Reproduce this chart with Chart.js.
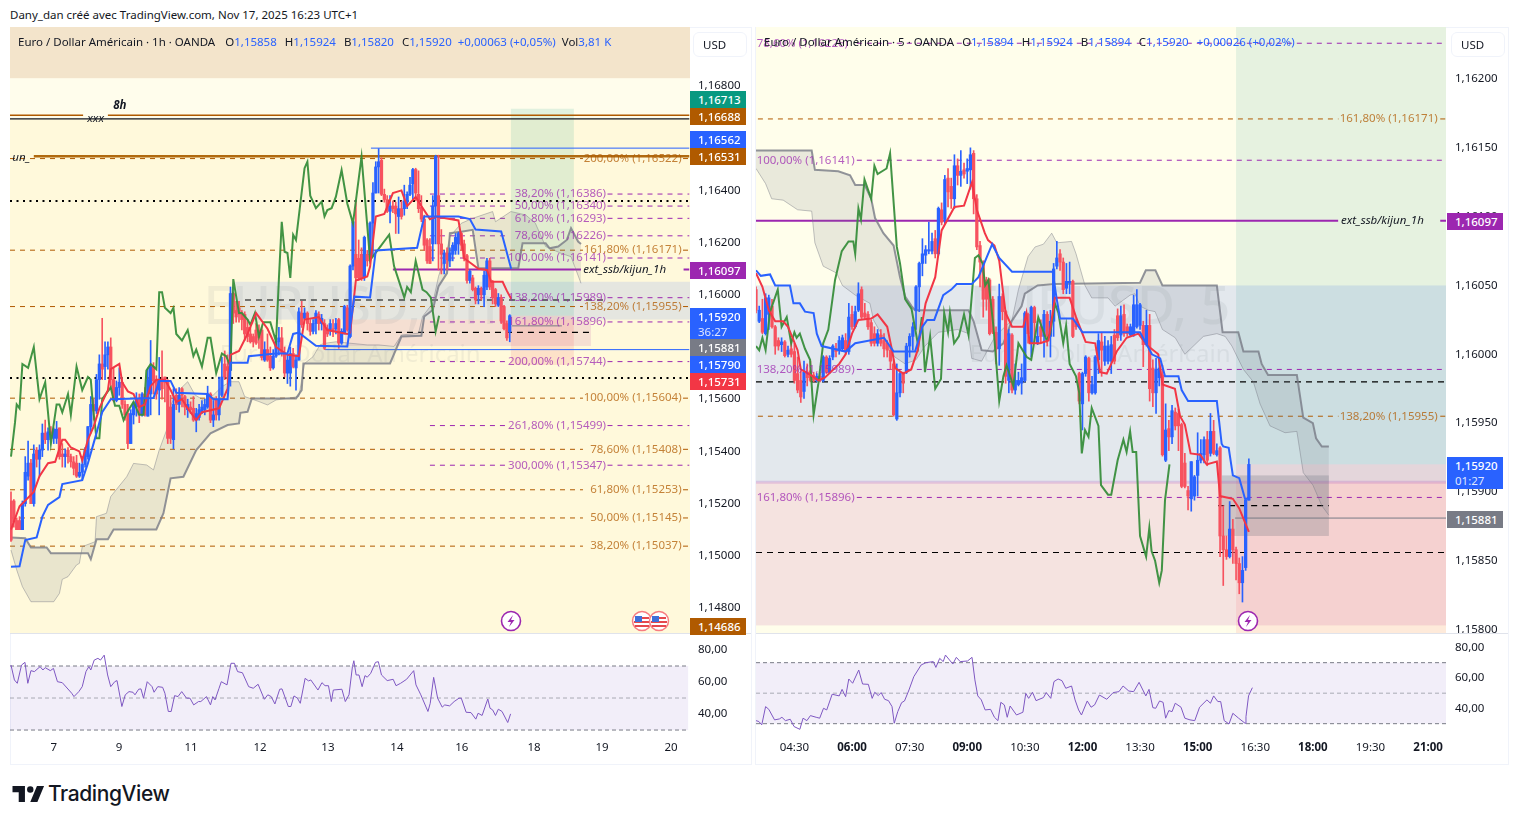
<!DOCTYPE html>
<html lang="fr">
<head>
<meta charset="utf-8">
<title>EURUSD</title>
<script src="https://cdn.jsdelivr.net/npm/chart.js@4/dist/chart.umd.min.js"></script>
<style>
  html, body { margin: 0; background: #fff; width: 1518px; height: 824px; overflow: hidden; font-family: "Noto Sans", sans-serif; color: #131722; }
  canvas { position: absolute; display: block; }
  .abs { position: absolute; white-space: nowrap; }
  .frame { position: absolute; border: 1px solid #f0f3fa; box-sizing: border-box; }
  .sep { position: absolute; height: 1px; background: #e0e3eb; }
  .legend { font-size: 11.5px; line-height: 16px; }
  .legend b { font-weight: 400; color: #2962ff; }
  .legend span { margin-left: 8px; }
  .usd { position: absolute; width: 54px; height: 25px; border: 1px solid #f0f3fa; border-radius: 6px; box-sizing: border-box; font-size: 11.5px; line-height: 24px; padding-left: 9px; background: #fff; }
  .badge { position: absolute; width: 56px; color: #fff; font-size: 11.5px; font-weight: 500; line-height: 17px; padding-left: 8px; box-sizing: border-box; }
  .badge i { display: block; font-style: normal; font-weight: 400; color: #dfe6ff; line-height: 13px; padding-bottom: 2px; }
</style>
</head>
<body>
<div class="abs" style="left:10px;top:7px;font-size:11.5px;line-height:16px">Dany_dan créé avec TradingView.com, Nov 17, 2025 16:23 UTC+1</div>
<div class="frame" style="left:10px;top:27px;width:742px;height:738px"></div>
<div class="frame" style="left:755px;top:27px;width:754px;height:738px"></div>

<canvas id="leftMain" width="741" height="606" style="left:10px;top:27px"></canvas>
<canvas id="leftRsi" width="741" height="130" style="left:10px;top:634px"></canvas>
<canvas id="rightMain" width="752" height="606" style="left:756px;top:27px"></canvas>
<canvas id="rightRsi" width="752" height="130" style="left:756px;top:634px"></canvas>
<div class="sep" style="left:10px;top:633px;width:741px"></div>
<div class="sep" style="left:756px;top:633px;width:752px"></div>

<div class="abs legend" style="left:18px;top:34px">Euro / Dollar Américain · 1h · OANDA<span style="margin-left:10px">O<b>1,15858</b></span><span>H<b>1,15924</b></span><span>B<b>1,15820</b></span><span>C<b>1,15920</b></span><span style="margin-left:6px"><b>+0,00063 (+0,05%)</b></span><span style="margin-left:6px">Vol<b>3,81 K</b></span></div>
<div class="abs legend" style="left:764px;top:34px">Euro / Dollar Américain · 5 · OANDA<span>O<b>1,15894</b></span><span>H<b>1,15924</b></span><span>B<b>1,15894</b></span><span>C<b>1,15920</b></span><span><b>+0,00026 (+0,02%)</b></span></div>
<div class="usd" style="left:693px;top:32px">USD</div>
<div class="usd" style="left:1451px;top:32px">USD</div>

<div class="badge" style="left:690px;top:91px;background:#089981">1,16713</div>
<div class="badge" style="left:690px;top:108px;background:#b05a00">1,16688</div>
<div class="badge" style="left:690px;top:131px;background:#2962ff">1,16562</div>
<div class="badge" style="left:690px;top:148px;background:#b05a00">1,16531</div>
<div class="badge" style="left:690px;top:262px;background:#9c27b0">1,16097</div>
<div class="badge" style="left:690px;top:308px;background:#2962ff">1,15920<i>36:27</i></div>
<div class="badge" style="left:690px;top:339px;background:#787b86">1,15881</div>
<div class="badge" style="left:690px;top:356px;background:#2962ff">1,15790</div>
<div class="badge" style="left:690px;top:373px;background:#f23645">1,15731</div>
<div class="badge" style="left:690px;top:618px;background:#b05a00">1,14686</div>
<div class="badge" style="left:1447px;top:213px;background:#9c27b0">1,16097</div>
<div class="badge" style="left:1447px;top:457px;background:#2962ff">1,15920<i>01:27</i></div>
<div class="badge" style="left:1447px;top:511px;background:#787b86">1,15881</div>

<svg class="abs" style="left:500px;top:610px" width="22" height="22" viewBox="0 0 22 22"><circle cx="11" cy="11" r="9.5" fill="#fff" stroke="#9c27b0" stroke-width="1.6"/><path d="M13 5 7.5 12H11l-2 5 5.5-7H11z" fill="#9c27b0"/></svg>
<svg class="abs" style="left:1237px;top:610px" width="22" height="22" viewBox="0 0 22 22"><circle cx="11" cy="11" r="9.5" fill="#fff" stroke="#9c27b0" stroke-width="1.6"/><path d="M13 5 7.5 12H11l-2 5 5.5-7H11z" fill="#9c27b0"/></svg>
<svg class="abs" style="left:631px;top:610px" width="40" height="22" viewBox="0 0 40 22">
  <g id="flag"><circle cx="11" cy="11" r="9.5" fill="#fff" stroke="#f77c80" stroke-width="1.5"/><path d="M4 7h14v2H4zM3 11h16v2H3zM4 15h14v2H4z" fill="#e5484d"/><path d="M4 6h7v6H4z" fill="#3f6fd8"/></g>
  <use href="#flag" x="17"/>
</svg>

<svg class="abs" style="left:12px;top:786px" width="33" height="16" viewBox="0 0 36 18"><path d="M14 0H0v7h7v11h7zM28 18h-8L27.5 0h8z" fill="#131722"/><circle cx="20" cy="4" r="3.6" fill="#131722"/></svg>
<div class="abs" style="left:48px;top:781px;font:500 21px/26px Inter, Roboto, sans-serif;letter-spacing:-0.4px;color:#131722">TradingView</div>

<script>
// 1h pane: candles, one value per bar
const leftOpen = [1.1521,1.1521,1.15135,1.15135,1.151,1.152,1.15305,1.15355,1.152,1.15405,
  1.1537,1.15405,1.1547,1.15445,1.15475,1.1545,1.1545,1.1549,1.1539,1.1538,
  1.15405,1.1538,1.1536,1.15355,1.15305,1.1532,1.1535,1.1538,1.15495,1.1558,
  1.15555,1.15675,1.15735,1.15725,1.1577,1.158,1.15675,1.15595,1.15645,1.15665,
  1.1558,1.15545,1.1543,1.1554,1.1557,1.156,1.1554,1.1562,1.15535,1.1562,
  1.15725,1.15675,1.15635,1.15675,1.15685,1.15665,1.1557,1.15445,1.15615,1.1558,
  1.1564,1.1561,1.1556,1.1557,1.15565,1.1552,1.1553,1.1555,1.1556,1.1557,
  1.1562,1.1552,1.156,1.1554,1.15615,1.15735,1.15725,1.1571,1.16005,1.1594,
  1.1595,1.1593,1.15925,1.15875,1.1585,1.1584,1.15865,1.15865,1.15865,1.1575,
  1.1579,1.15765,1.1572,1.15765,1.1582,1.15835,1.15775,1.157,1.157,1.15775,
  1.1572,1.1575,1.1593,1.1591,1.1593,1.1589,1.1586,1.1589,1.15925,1.1589,
  1.1589,1.1587,1.15865,1.1587,1.1587,1.15905,1.15815,1.1585,1.1595,
  1.1584,1.1611,1.16155,1.1614,1.16155,1.16065,1.16155,1.16155,1.16275,1.1639,
  1.1649,1.16515,1.16385,1.16365,1.1632,1.1634,1.1634,1.163,1.1633,1.1633,
  1.16355,1.16385,1.16425,1.1648,1.16385,1.16335,1.1629,1.1621,1.16185,1.16195,
  1.1634,1.1638,1.16195,1.1612,1.1616,1.1613,1.16155,1.1617,1.16195,1.16235,
  1.16195,1.1615,1.16055,1.16065,1.16025,1.16,1.16025,1.16,1.1603,1.1613,
  1.1605,1.1602,1.1596,1.1599,1.15955,1.1589,1.15858];
const leftHigh = [1.15245,1.15215,1.15145,1.1515,1.1521,1.1538,1.1544,1.1537,1.15425,1.15415,
  1.15425,1.15505,1.1552,1.1549,1.15495,1.1549,1.15515,1.1549,1.1543,1.1541,
  1.15415,1.1539,1.1538,1.15385,1.15355,1.1538,1.15415,1.15495,1.1561,1.156,
  1.15695,1.1577,1.1591,1.1582,1.1582,1.15835,1.1572,1.1567,1.1572,1.15675,
  1.15595,1.1558,1.1556,1.1559,1.15625,1.1562,1.15625,1.15645,1.1572,1.15825,
  1.1574,1.1569,1.1576,1.15785,1.15685,1.15675,1.15615,1.1564,1.1564,1.15645,
  1.15645,1.15615,1.156,1.1559,1.1561,1.15565,1.1558,1.15595,1.156,1.1565,
  1.15625,1.15595,1.1561,1.15685,1.1576,1.15785,1.1577,1.1603,1.1601,1.15975,
  1.15975,1.1594,1.15935,1.15905,1.15875,1.1585,1.1589,1.15885,1.15875,1.1582,
  1.1585,1.158,1.1579,1.15845,1.15875,1.15875,1.158,1.15775,1.158,1.15795,
  1.1577,1.1595,1.15975,1.1595,1.15935,1.15905,1.15905,1.1594,1.15935,1.15925,
  1.15905,1.15885,1.15905,1.15905,1.1591,1.1591,1.1587,1.1596,1.1596,
  1.16115,1.1628,1.16355,1.1621,1.1618,1.16225,1.1617,1.1628,1.1643,1.1651,
  1.1656,1.16525,1.16405,1.1638,1.1638,1.1636,1.16355,1.16375,1.1636,1.1642,
  1.16395,1.1645,1.16485,1.16485,1.16475,1.1638,1.16305,1.16215,1.16215,1.1638,
  1.16535,1.16535,1.1625,1.1617,1.1618,1.1618,1.162,1.16235,1.1624,1.1624,
  1.1621,1.16155,1.16095,1.16075,1.1603,1.16035,1.1603,1.1609,1.1614,1.1614,
  1.16055,1.16025,1.16005,1.16,1.1596,1.159,1.15924];
const leftLow = [1.15055,1.1511,1.151,1.151,1.151,1.1519,1.1529,1.152,1.1519,1.1534,
  1.15305,1.1538,1.1543,1.15405,1.1545,1.1543,1.1543,1.1537,1.1534,1.1534,
  1.15355,1.1534,1.1531,1.153,1.153,1.1529,1.1534,1.1537,1.1547,1.1552,
  1.15545,1.156,1.15675,1.15675,1.15715,1.1564,1.1559,1.1559,1.15615,1.15565,
  1.1552,1.1541,1.1543,1.15505,1.15535,1.1551,1.15535,1.15535,1.15535,1.1554,
  1.1562,1.156,1.1554,1.156,1.1559,1.1543,1.1543,1.1541,1.1556,1.1555,
  1.1557,1.1554,1.1553,1.15545,1.15515,1.15475,1.1552,1.15545,1.1554,1.15565,
  1.1551,1.15495,1.1552,1.1552,1.1561,1.15675,1.1566,1.1565,1.1589,1.15895,
  1.15895,1.15865,1.15825,1.1582,1.15815,1.158,1.1581,1.15795,1.1575,1.15745,
  1.15745,1.1571,1.15715,1.1576,1.1577,1.15765,1.15685,1.1566,1.1565,1.1572,
  1.15635,1.1575,1.15875,1.15905,1.15865,1.15845,1.1585,1.1585,1.15865,1.15865,
  1.1579,1.1584,1.15845,1.1584,1.1585,1.15795,1.1581,1.1585,1.1586,
  1.15835,1.16095,1.16055,1.16055,1.16055,1.16055,1.1611,1.1612,1.1615,1.1639,
  1.1639,1.1638,1.16355,1.16315,1.16275,1.16315,1.16235,1.16235,1.1629,1.16305,
  1.1633,1.1638,1.16365,1.1636,1.16315,1.1628,1.1617,1.1612,1.1612,1.1613,
  1.16195,1.16095,1.1608,1.1608,1.16095,1.16108,1.1613,1.16155,1.16155,1.1617,
  1.1613,1.16045,1.16045,1.16015,1.15965,1.15965,1.1598,1.15955,1.1602,1.1602,
  1.15965,1.15955,1.15955,1.1589,1.15865,1.15825,1.1582];
const leftClose = [1.1506,1.1513,1.151,1.151,1.152,1.1532,1.15355,1.152,1.1539,1.1537,
  1.15405,1.1547,1.15445,1.15475,1.15465,1.15485,1.15485,1.1538,1.1538,1.1539,
  1.1538,1.1536,1.15335,1.15305,1.1532,1.1535,1.15405,1.15495,1.1558,1.15555,
  1.15675,1.15735,1.15715,1.1577,1.158,1.15675,1.15595,1.15645,1.15665,1.1558,
  1.1554,1.1543,1.15545,1.1558,1.156,1.1554,1.1562,1.1554,1.15675,1.15725,
  1.1567,1.1562,1.1567,1.1564,1.15665,1.1545,1.1545,1.1558,1.1558,1.15615,
  1.15615,1.1557,1.1558,1.1556,1.1552,1.15545,1.1556,1.1557,1.1558,1.1562,
  1.1552,1.1554,1.1554,1.156,1.15685,1.15685,1.1571,1.16005,1.1593,1.15915,
  1.15925,1.15905,1.1585,1.1584,1.1582,1.1582,1.15815,1.15835,1.1576,1.1579,
  1.1575,1.1572,1.15765,1.1582,1.15835,1.15775,1.157,1.1575,1.15775,1.15725,
  1.1575,1.15935,1.15885,1.1593,1.1589,1.1586,1.1589,1.1593,1.1589,1.1591,
  1.15795,1.1585,1.1589,1.1586,1.1589,1.15815,1.1586,1.15955,1.15865,
  1.1611,1.1628,1.16065,1.16065,1.16065,1.1622,1.1613,1.16275,1.1639,1.1649,
  1.1651,1.16385,1.16365,1.1632,1.1634,1.1633,1.1631,1.1633,1.163,1.1636,
  1.16385,1.1642,1.1648,1.1639,1.1633,1.1629,1.1619,1.1613,1.1612,1.1634,
  1.1653,1.16195,1.16155,1.1616,1.16135,1.1616,1.1619,1.1622,1.16235,1.1619,
  1.1614,1.16055,1.1609,1.1602,1.1598,1.16025,1.16,1.16075,1.1613,1.1603,
  1.1599,1.15965,1.1599,1.159,1.1587,1.15835,1.1592];

const leftTenkanBars = [0,3,8,10,13,15.5,18,19,21,24,25,27,29,31,34,35,38,39,41,43,45,47,49,51,54,56,58,60,62,65,67,73,76,77,80,83,86,90,93,97,101,103,108,111,118,119,121,125,126,128,131,134,137,139,142,144,147,149,157,158,159,161.5,164,167,168.5,172.5,174,175.5];
const leftTenkan = [1.151,1.1519,1.15245,1.15305,1.15355,1.1536,1.15445,1.15445,1.15415,1.154,1.15365,1.15445,1.15495,1.15565,1.15635,1.15715,1.15735,1.15665,1.1563,1.1562,1.1557,1.1558,1.1565,1.15675,1.15675,1.15635,1.1559,1.156,1.15565,1.1552,1.1555,1.15565,1.1564,1.1577,1.15785,1.1585,1.1593,1.1587,1.158,1.1577,1.15765,1.15905,1.15915,1.15865,1.1585,1.15855,1.16055,1.1607,1.16108,1.163,1.1631,1.1639,1.164,1.1634,1.16375,1.1634,1.1629,1.163,1.16285,1.1622,1.1614,1.1612,1.161,1.16095,1.1605,1.1605,1.16015,1.15985];
const leftKijunBars = [0,3,5,9,11,13,17,18,25,27,30,32,35,50,52,56,58,69,71,76,77,83,83.5,93,97,99,101,104,107,118,120.5,126,128,142.5,145,157,161,163,172,175.5];
const leftKijun = [1.14958,1.1496,1.1506,1.1507,1.1515,1.15195,1.15225,1.15275,1.1529,1.15355,1.1547,1.1555,1.156,1.15605,1.1567,1.1567,1.15625,1.1562,1.156,1.156,1.1574,1.1574,1.15765,1.15775,1.15775,1.1585,1.15855,1.1583,1.15805,1.15802,1.15993,1.1599,1.1617,1.1618,1.163,1.163,1.1629,1.1625,1.16243,1.161];
const leftChikouBars = [0,1.4,2,3,4,6,8,10,12,14,16,17,18,20,21,23,25,27,28,29,30,31,32,35,36.5,38,39.5,40.5,43,45,46.5,47.5,49,51,52,53,54,56,57,58,60,62,64,65,67,69,70,72,74,75.5,77,78,80,81,83,84,85.6,87,88.5,91,93,94,95,96,97,98,99,100,103,104,105,107,109,110,111,112.5,114,116,118,120,123,126,128.6,132.7,134.4,138,139,140.3,142,144.4,145.8,147.3,149,150.2];
const leftChikou = [1.1538,1.1551,1.1558,1.15565,1.15735,1.1572,1.158,1.156,1.15665,1.1543,1.1558,1.1558,1.1555,1.1562,1.1554,1.15725,1.15635,1.15685,1.15675,1.15545,1.1545,1.1545,1.156,1.15645,1.15575,1.15575,1.1552,1.15545,1.1559,1.1554,1.1554,1.1571,1.15735,1.15715,1.1601,1.1601,1.1595,1.1593,1.1595,1.1585,1.15825,1.15865,1.15765,1.1579,1.15725,1.15835,1.15835,1.157,1.15775,1.15765,1.15725,1.1606,1.1593,1.1593,1.15905,1.15885,1.1593,1.1584,1.15895,1.15895,1.1582,1.1606,1.1628,1.16165,1.1616,1.16065,1.1623,1.1621,1.16485,1.1651,1.1638,1.16332,1.16357,1.163,1.16325,1.16332,1.16376,1.16478,1.1635,1.16274,1.16529,1.16133,1.1617,1.1623,1.1611,1.1599,1.1603,1.1601,1.1613,1.1602,1.1601,1.1599,1.1586,1.1592];
const leftSpanABars = [0,2,4,7,15,17,18,20,23,24,25,29.5,30,33.5,35,40.6,43,47.6,50,52,54.6,56,59,62,64.6,67.5,71,74,77,80,82,87,90,93,101,103,106,108.4,110,114,125,129,134.4,137,143,144.4,148,150,153,154,158,162,169,170,175.4,180.6,184,187.6,193,196.5,200];
const leftSpanA = [1.15022,1.14946,1.14882,1.14824,1.14824,1.14856,1.1491,1.1492,1.14965,1.14971,1.15035,1.15054,1.1515,1.15163,1.15227,1.15303,1.15354,1.15348,1.15329,1.15405,1.15482,1.15578,1.15635,1.15667,1.15616,1.15597,1.15616,1.15648,1.15667,1.15667,1.1561,1.15591,1.15578,1.15597,1.1561,1.15737,1.15763,1.15808,1.15814,1.1582,1.15808,1.15808,1.15802,1.15846,1.15853,1.15917,1.15968,1.1607,1.16172,1.16223,1.16274,1.16293,1.16319,1.1628,1.16319,1.16306,1.16274,1.16185,1.16159,1.16146,1.16044];
const leftSpanBBars = [0,5,7,12.5,14,27,28,30,34,36,51,53.5,56,60.5,65,70,76,80,80.5,83,84.5,100,102,102.6,133,137,144,145,148,150,153,154,158,162,164,178,179.5,187.6,189,192,195,196.5,199,200];
const leftSpanB = [1.1507,1.15067,1.15032,1.15032,1.1501,1.1501,1.14987,1.15063,1.15063,1.15101,1.15101,1.15163,1.15297,1.15303,1.15405,1.15469,1.15501,1.15507,1.15548,1.15552,1.15603,1.15603,1.15635,1.15737,1.15737,1.1584,1.15843,1.15917,1.15942,1.16032,1.16083,1.16236,1.16242,1.16249,1.16102,1.16102,1.16198,1.16198,1.16178,1.16185,1.1621,1.16255,1.16204,1.16195];

// 1h pane: levels and tick labels
const leftOrangeLevels = [1.16522,1.16171,1.15955,1.15604,1.15408,1.15253,1.15145,1.15037];
const leftOrangeNames = ['200,00%','161,80%','138,20%','100,00%','78,60%','61,80%','50,00%','38,20%'];
const leftPurpleLevels = [1.16386,1.1634,1.16293,1.16226,1.16141,1.15989,1.15896,1.15744,1.15499,1.15347];
const leftPurpleNames = ['38,20%','50,00%','61,80%','78,60%','100,00%','138,20%','161,80%','200,00%','261,80%','300,00%'];
const leftPriceTicks = [1.168,1.166,1.164,1.162,1.16,1.158,1.156,1.154,1.152,1.15,1.148];
const leftDayBars = [15,37.9,63.2,87.4,111.2,135.4,158.2,183.5,207.4,231.6];
const leftDayLabels = ['7','9','11','12','13','14','16','18','19','20'];
const leftRsiBars = [0,1.2,2.2,3.7,4.9,5.9,7,8.2,10.2,11.2,12,13.8,14.9,16.3,18,21.3,22.1,23.8,25,26.3,27.3,28,29.2,30.5,31.4,32.7,33.9,35,36.4,37.2,38.9,40.1,41.4,42.8,43.5,44.8,45.6,46.5,47.8,49.5,50.2,51.5,53.2,54,55.2,56.2,57.4,58.6,59.9,61.6,62.8,64.1,65.8,66.6,68.6,70,70.8,71.6,73,73.8,75.8,77.2,78.4,79.5,81.2,83.4,85,86.7,88.9,90.1,91.3,92.6,94.3,95.1,97.3,98.2,99.3,100.5,101.5,103.2,104.4,105.2,107.7,109.1,110.2,111.4,112.4,113.1,116.1,117.3,118.6,119.8,120.3,121.1,122.1,123.2,124.2,125,126.2,127.9,128.9,130,132,134.1,135.1,136.7,138.8,141.3,142.1,143.8,146.3,147.1,148.3,149.7,151.3,152.2,153.9,155.5,157.2,158,159.7,161.4,163.1,163.9,165.3,167.3,168.1,169,170,171,172.3,174.3,175.3];
const leftRsi = [70.6,61.3,59.2,70.6,72.3,59.2,67.1,66.5,69.6,67.5,69,67.1,68.5,60.2,59.6,53,50.9,54,57.1,66.5,69.6,67.5,73.7,74.8,73.7,76.8,64.4,57.1,60.2,60.9,44.7,52,54,53.6,52,55.5,55.7,49.9,60.2,57.1,53.6,57.1,56.7,53,41.6,41.6,51.5,50.9,54,49.9,49.9,45.7,47.8,47.8,50.9,45.7,50.9,48.8,56.1,60.2,58.2,71.7,71.7,66.5,65.8,57.1,56.1,58.6,49.2,52,50.9,46.3,55.5,55.7,44.7,44.7,51.3,49.9,46.7,62.3,60.7,61.3,55,59.6,57.7,57.7,47.8,55,55.5,47.8,52,69.6,73.3,64.4,64.4,57.1,64,63,65.4,72.3,72.7,64.4,60.9,61.7,57.7,59.2,61.7,67.1,58.2,52,41.6,46.7,62.9,49.9,44.3,45.7,45.1,47.8,49.9,49.9,41.1,40.9,36.8,40.5,39.1,49.4,43.6,42.6,39.1,43,41.6,34.7,40.1];

// 5 min pane: candles
const rightOpen = [1.16047,1.16024,1.16026,1.16015,1.16029,1.16035,1.1602,1.1601,1.16007,1.16009,
  1.16,1.16004,1.16002,1.15986,1.15981,1.15973,1.15987,1.15988,1.15985,1.15981,
  1.15984,1.15981,1.15998,1.15987,1.15998,1.16004,1.16003,1.16004,1.1601,1.16002,
  1.16029,1.1602,1.16032,1.16047,1.1603,1.16029,1.16023,1.16015,1.16008,1.16014,
  1.1601,1.16008,1.16003,1.15993,1.15953,1.15972,1.15986,1.15987,1.16006,1.16013,
  1.16032,1.16049,1.16066,1.16072,1.16075,1.16075,1.16084,1.16073,1.16105,1.16098,
  1.16128,1.16122,1.16113,1.16137,1.1613,1.16134,1.16133,1.16134,1.16146,1.16113,
  1.16079,1.16067,1.16054,1.16054,1.1604,1.16016,1.16004,1.16042,1.16031,1.15981,
  1.16014,1.15974,1.15978,1.15979,1.15981,1.16029,1.16008,1.16034,1.16008,1.1602,
  1.16013,1.16029,1.16013,1.16024,1.16064,1.16073,1.16067,1.16048,1.16052,1.16053,
  1.16024,1.15986,1.15964,1.15986,1.15997,1.15972,1.15972,1.15996,1.16009,1.15995,
  1.15995,1.15995,1.16014,1.16028,1.16014,1.16029,1.1602,1.16014,1.16014,1.1602,
  1.16021,1.16021,1.16007,1.16021,1.1599,1.15972,1.15983,1.15985,1.15923,1.15946,
  1.1594,1.15958,1.15957,1.15949,1.15921,1.15901,1.15895,1.15897,1.15912,1.15923,
  1.15927,1.15938,1.15928,1.15944,1.15927,1.15932,1.15868,1.15858,1.15853,1.15873,
  1.15858,1.15848,1.15834,1.15845,1.15894];
const rightHigh = [1.16049,1.16035,1.1604,1.16044,1.16043,1.1604,1.16021,1.16012,1.16012,1.1601,
  1.16006,1.1601,1.16008,1.15998,1.15988,1.15995,1.15993,1.15995,1.15987,1.15986,
  1.15987,1.15999,1.15999,1.15999,1.16007,1.16008,1.16013,1.16014,1.16015,1.16037,
  1.16035,1.16035,1.16052,1.16049,1.16037,1.16031,1.16025,1.1602,1.16018,1.16018,
  1.16015,1.1601,1.16006,1.15996,1.15993,1.15987,1.15987,1.16008,1.16015,1.16023,
  1.1605,1.16067,1.16084,1.16079,1.16096,1.16088,1.1609,1.16107,1.1611,1.1613,
  1.16135,1.16128,1.16145,1.16142,1.16148,1.16139,1.16142,1.1615,1.16148,1.16116,
  1.16082,1.16068,1.16056,1.16055,1.16042,1.1602,1.16051,1.16044,1.16032,1.16018,
  1.16015,1.15993,1.15987,1.15993,1.16031,1.1603,1.16035,1.16035,1.16024,1.16025,
  1.16032,1.16031,1.16032,1.16066,1.16082,1.16076,1.1607,1.16066,1.16067,1.16054,
  1.16026,1.15987,1.15987,1.15999,1.15998,1.15984,1.15999,1.16015,1.16016,1.16013,
  1.1601,1.16013,1.16018,1.16033,1.16035,1.16036,1.16022,1.16022,1.16043,1.16047,
  1.16037,1.16024,1.16032,1.16029,1.15996,1.15997,1.15996,1.15992,1.15964,1.15952,
  1.15963,1.15961,1.1596,1.1595,1.15928,1.15904,1.15922,1.15912,1.15943,1.15938,
  1.1594,1.15944,1.15957,1.15952,1.15935,1.15933,1.1589,1.15868,1.15893,1.1588,
  1.1586,1.15852,1.15853,1.15895,1.15924];
const rightLow = [1.1603,1.16023,1.16015,1.16014,1.16018,1.16019,1.16,1.16003,1.16002,1.15998,
  1.15998,1.15998,1.15979,1.15972,1.15965,1.15968,1.15977,1.1598,1.1598,1.1598,
  1.1598,1.1598,1.15986,1.15986,1.15996,1.15998,1.16,1.16002,1.16,1.16,
  1.16018,1.16019,1.16031,1.16026,1.16026,1.16018,1.16006,1.16006,1.16006,1.16006,
  1.15998,1.15998,1.15989,1.15955,1.15952,1.15969,1.15972,1.15986,1.15998,1.16003,
  1.16018,1.16031,1.16057,1.16066,1.16073,1.16073,1.1607,1.16072,1.16094,1.16095,
  1.16107,1.16106,1.16106,1.16123,1.16122,1.16128,1.16124,1.1612,1.16102,1.16076,
  1.16049,1.16027,1.16032,1.16014,1.16015,1.15993,1.15992,1.16025,1.15979,1.15972,
  1.15972,1.15971,1.15977,1.15971,1.1598,1.16008,1.15998,1.16008,1.16007,1.16008,
  1.15998,1.16006,1.15998,1.16013,1.16062,1.16061,1.16044,1.16044,1.16044,1.16012,
  1.16018,1.15964,1.15945,1.15984,1.15966,1.15971,1.15971,1.15986,1.15984,1.15992,
  1.15993,1.15986,1.15993,1.1601,1.1601,1.16013,1.16013,1.16013,1.16013,1.16019,
  1.16018,1.15991,1.16006,1.15966,1.15962,1.15957,1.15977,1.15926,1.15922,1.1593,
  1.15935,1.15945,1.1593,1.15903,1.15903,1.15887,1.15886,1.15894,1.15897,1.15921,
  1.15921,1.15919,1.15926,1.15927,1.15926,1.15853,1.15832,1.15851,1.15852,1.15848,
  1.15836,1.15826,1.1582,1.15843,1.15894];
const rightClose = [1.16032,1.16032,1.16016,1.16041,1.16041,1.1602,1.16006,1.16006,1.16009,1.15999,
  1.16003,1.16,1.15981,1.15974,1.15969,1.15987,1.15983,1.15981,1.15981,1.15984,
  1.15981,1.15998,1.15987,1.15997,1.16006,1.16002,1.1601,1.16012,1.16002,1.16027,
  1.1602,1.16031,1.16044,1.16027,1.16027,1.1602,1.16008,1.16008,1.16015,1.16008,
  1.16004,1.16003,1.15995,1.15956,1.15972,1.15986,1.15979,1.16006,1.16013,1.1602,
  1.16049,1.16066,1.16073,1.16076,1.16076,1.16082,1.16073,1.16106,1.16096,1.16127,
  1.16118,1.16113,1.16137,1.1613,1.16133,1.16131,1.16135,1.16145,1.16113,1.16078,
  1.16067,1.1604,1.1604,1.16015,1.16016,1.16004,1.16042,1.16031,1.15984,1.16015,
  1.15974,1.15981,1.15981,1.15983,1.1603,1.16015,1.16034,1.16023,1.16013,1.16013,
  1.16029,1.16013,1.16024,1.16062,1.1607,1.16067,1.16047,1.16053,1.16053,1.16013,
  1.1602,1.15966,1.15986,1.15998,1.15972,1.15978,1.15998,1.1601,1.16003,1.16006,
  1.16006,1.16007,1.15995,1.16012,1.16028,1.16015,1.16015,1.1602,1.16036,1.16036,
  1.16036,1.16007,1.16021,1.15975,1.15972,1.15989,1.1599,1.15927,1.15945,1.1594,
  1.15959,1.15948,1.15948,1.15904,1.15904,1.15897,1.15922,1.15911,1.15923,1.15928,
  1.15938,1.15923,1.15944,1.15928,1.1593,1.15868,1.15858,1.15853,1.15873,1.15858,
  1.15848,1.15834,1.15843,1.15894,1.1592];

// 5 min pane: indicator lines
const rightTenkanBars = [0,2,4,6,8.5,10,13,14,17,19.5,21.5,26,28,30,32,36,38,41,42.5,43.5,46,48.5,50.5,53,56,58,62,65,67.5,69,71.5,72.5,74.5,76,78,80,83.5,84.5,85.5,88.75,91.4,93.4,98,100,103,106,107.5,109.6,111,112.7,115.8,119.5,122,125.7,127,130.9,132.5,134,135.8,138.8,140.8,144,145,149,151,154];
const rightTenkan = [1.16059,1.16049,1.16032,1.16024,1.16024,1.1602,1.16003,1.15989,1.15985,1.15981,1.15983,1.15993,1.16,1.16015,1.16025,1.16026,1.16029,1.1602,1.16003,1.1599,1.15986,1.15989,1.16003,1.16037,1.16056,1.1609,1.16107,1.16108,1.16125,1.16105,1.16088,1.16083,1.16079,1.16068,1.1603,1.1602,1.1602,1.1603,1.16008,1.16008,1.1601,1.16041,1.16041,1.16027,1.16009,1.16008,1.15987,1.15986,1.15993,1.16002,1.16012,1.16015,1.16007,1.16,1.15978,1.15975,1.15955,1.15949,1.15928,1.15927,1.1592,1.15922,1.15897,1.15895,1.15888,1.15871];
const rightKijunBars = [0,1.5,4.4,6,10.6,11.7,13.7,15.3,18,19,20.5,28,31,40,43,49.7,52,53.5,55.7,58.5,61,62.7,67.4,69.5,73.8,76,80,88.75,92.7,93.9,95,99,102,120,123.7,126.3,127.8,132,133,135,144,145.5,146,147.7,149,151,152.8,154];
const rightKijun = [1.16061,1.16057,1.16058,1.1605,1.1605,1.16037,1.16037,1.16031,1.1603,1.16015,1.16006,1.16002,1.16008,1.16012,1.16002,1.16002,1.1602,1.16025,1.16025,1.16043,1.16047,1.16051,1.16051,1.16056,1.1608,1.1607,1.1606,1.1606,1.1606,1.16041,1.16026,1.16026,1.16016,1.16016,1.16,1.15997,1.15984,1.15984,1.15974,1.15966,1.15966,1.15935,1.15933,1.15932,1.15912,1.1591,1.15895,1.15895];
const rightChikouBars = [0,1,2,3,4.4,6.8,8,9.6,11,12,12.7,13.7,15.3,16.9,18,19.5,21,22.6,24.7,26.8,28.9,30.4,31,32,32.8,33.9,36,37,38,40.8,41.9,44,45,46.6,48.6,50.7,51.8,52.8,54.4,56,57.8,58.8,60,60.6,61.9,63.4,65,66.4,68.4,69.5,70.8,71.6,72.6,74.2,76,77.3,78.3,80.4,82,84.6,86,88.2,90.8,91.9,93.4,94.5,96,96.9,98,100,101,101.8,102.8,103.9,104.9,107,107.8,110,111,113,114.8,115.8,116.9,117.7,118.8,120,121.9,122.9,123.6,124.7,126,126.8,127.8,129.2];
const rightChikou = [1.16006,1.16003,1.16012,1.16003,1.16031,1.16047,1.1602,1.16027,1.16008,1.16016,1.16012,1.16015,1.16004,1.15996,1.15956,1.15979,1.16008,1.16018,1.16054,1.16075,1.16082,1.16082,1.16073,1.16106,1.16098,1.16127,1.16113,1.16137,1.16131,1.16135,1.16146,1.16078,1.16066,1.1604,1.16033,1.16006,1.16027,1.15987,1.16013,1.15975,1.15982,1.1603,1.16016,1.1603,1.16008,1.16013,1.16029,1.16014,1.1607,1.16072,1.16066,1.1605,1.16054,1.1602,1.15966,1.15984,1.15992,1.15977,1.16008,1.15998,1.15996,1.16027,1.1601,1.16015,1.16037,1.1603,1.16008,1.16021,1.15993,1.15984,1.15972,1.15928,1.15945,1.1594,1.15961,1.15948,1.15905,1.15898,1.15898,1.15923,1.15938,1.15929,1.15944,1.15929,1.15929,1.15868,1.15853,1.15874,1.15857,1.1585,1.15834,1.15843,1.15894,1.1592];
const rightSpanABars = [0,3,4.9,8.5,13,17.4,18.4,21,25.2,27,31,35.6,36.7,40.8,43.4,46.6,50,52.8,57,63,66.4,67.4,70.5,74.7,80,82,85,87.2,89.8,92.4,94,98.6,100,102.8,104.9,110,112.2,116.9,118.4,120,122.6,124.7,127,131,134,139.8,144,146.6,148.7,152.3,155.4,157.5,160.6,165.3,169,171,174,176.8,179];
const rightSpanA = [1.16135,1.16124,1.16113,1.16112,1.16105,1.16104,1.16081,1.16064,1.16059,1.1605,1.16043,1.16037,1.16025,1.16008,1.15998,1.15993,1.15996,1.16006,1.16016,1.16018,1.16015,1.15997,1.15995,1.16013,1.16025,1.16047,1.16071,1.16078,1.1608,1.16088,1.16081,1.16082,1.16073,1.1605,1.16041,1.16041,1.16035,1.16043,1.16044,1.16035,1.16032,1.16031,1.16018,1.16012,1.16,1.16013,1.16015,1.16013,1.16006,1.15989,1.1598,1.15964,1.15948,1.15943,1.15944,1.15914,1.15905,1.1589,1.15883];
const rightSpanBBars = [0,17.4,18.4,25.7,29.4,31,34,36,37.2,39.8,43,45,46.6,48.6,49.7,66.4,68,70.5,74,77.3,79.9,83,84,88,93.4,120,121.8,124.8,127,144,145.8,150.7,152.3,157,158,160,169,171,174,175,176.8,179];
const rightSpanB = [1.16148,1.16148,1.16134,1.16133,1.1613,1.16123,1.16123,1.16113,1.16099,1.16088,1.16079,1.16056,1.16042,1.16035,1.16032,1.16032,1.16024,1.16003,1.16002,1.16008,1.16024,1.16035,1.16044,1.1605,1.16051,1.16052,1.16061,1.16061,1.1605,1.1605,1.16016,1.16016,1.16002,1.16002,1.15993,1.15985,1.15985,1.15954,1.1595,1.15939,1.15933,1.15933];

// 5 min pane: levels and tick labels
const rightOrangeLevels = [1.16171,1.15955];
const rightOrangeNames = ['161,80%','138,20%'];
const rightPurpleLevels = [1.16226,1.16141,1.15989,1.15896];
const rightPurpleNames = ['78,60%','100,00%','138,20%','161,80%'];
const rightPriceTicks = [1.162,1.1615,1.161,1.1605,1.16,1.1595,1.159,1.1585,1.158];
const rightTimeBars = [12,30,48,66,84,102,120,138,156,174,192,210];
const rightTimeLabels = ['04:30','06:00','07:30','09:00','10:30','12:00','13:30','15:00','16:30','18:00','19:30','21:00'];
const rightBoldLabels = ['06:00','09:00','12:00','15:00','18:00','21:00'];
const rightRsiBars = [0,.9,1.8,3,4,5.8,7.3,8.1,9.2,10.7,11.9,13.7,14.7,15.9,17,18.8,19.9,21.1,22.1,23.8,26,26.9,28,29,30.2,32.1,33.3,35.1,36.3,37.1,38.2,39.1,40.2,41.4,42.5,43.2,44.3,45.5,46.4,47.8,49.3,51.6,53.1,55.4,56.2,57.4,58.5,59.2,61.5,62.6,63.8,66.1,67.5,68.4,69.3,70.4,71.6,73.3,74.5,75.6,76.5,77.6,78.5,79.4,81.4,83.4,84.3,85.2,86.4,87.5,89.8,90.7,92.1,93.1,94.4,95.6,96.8,98.6,99.7,100.8,101.7,103.5,104.7,105.8,107.3,109.6,111.6,113.4,114.7,116.5,118,119.7,121.8,122.8,124,124.9,126.1,127.2,128,129,130,131,132.8,134,135.6,137.1,138.6,140.9,142,143,144.3,145.2,146.3,147.8,149,150.8,152.8,153.1,153.9,155.1];
const rightRsi = [32,31.4,29.2,41.2,39.4,32.5,33.1,34.2,32,32.9,28.1,26.3,33.6,32,35.3,34.2,33.6,40.1,39,49.3,48.2,52.5,47.7,59.3,56.5,65.2,56,55.8,46.6,50.6,48.4,50.4,46,45.1,41.2,30.3,37.9,43.8,44.9,52.1,60.8,68.5,70,70.7,66.9,72.8,70.7,75,69.1,73.5,70.7,71.1,73.5,58.7,48.2,45.6,39,39.4,34.2,32,44,42.3,34.2,41.6,35.7,37.5,49.9,46.6,50.6,45.1,47.1,50.4,46.6,57.6,59.3,58.2,53.2,54.7,45.6,39,35.7,44.9,40.8,42.3,48.8,46,50.4,51,54.7,51.4,51,57.1,48.2,52.5,40.5,40.1,44.9,44,33.6,38.6,37.9,43.4,40.8,33.6,32.5,32,40.8,45.6,43.4,48.2,44.5,44.5,32,29.8,36.8,33.6,30.3,34.6,48.2,53.6];

const BLUE = '#2962ff', RED = '#f7525f';
const ORANGE = '#b05a00', PURPLE = '#9c27b0';
const FONT = '"Noto Sans", sans-serif';
Chart.defaults.font.family = FONT;
Chart.defaults.color = '#131722';
Chart.defaults.animation = false;

const comma = (v, d) => v.toFixed(d).replace('.', ',');
const pts = (xs, ys) => xs.map((x, i) => ({x, y: ys[i]}));

function candles(o, h, l, c) {
  const tone = ctx => c[ctx.dataIndex] >= o[ctx.dataIndex] ? BLUE : RED;
  const wicks = o.map((_, i) => ({x: i, y: [l[i], h[i]]}));
  const bodies = o.map((_, i) => ({x: i, y: [o[i], c[i]]}));
  return [
    {type: 'bar', grouped: false, barThickness: 1, data: wicks, backgroundColor: tone, order: 5},
    {type: 'bar', grouped: false, barThickness: 2.6, minBarLength: 1, data: bodies, backgroundColor: tone, order: 4}
  ];
}

function line(data, color, width, order, dash) {
  return {type: 'line', data, borderColor: color, borderWidth: width, borderDash: dash || [], pointRadius: 0, tension: 0, order: order};
}

// a level running from one bar to another, optionally broken where its label sits
function level(price, from, to, color, width, dash, gap) {
  const data = gap
    ? [{x: from, y: price}, {x: gap[0], y: price}, {x: gap[0], y: null}, {x: gap[1], y: price}, {x: to, y: price}]
    : [{x: from, y: price}, {x: to, y: price}];
  return line(data, color, width, 20, dash);
}

function cloud(aBars, a, bBars, b) {
  return [
    Object.assign(line(pts(aBars, a), 'rgba(120,123,134,0.45)', 1, 15), {fill: '+1', backgroundColor: 'rgba(120,123,134,0.16)'}),
    line(pts(bBars, b), 'rgba(120,123,134,0.8)', 2, 15)
  ];
}

function paneDrawing(cfg) {
  return {
    id: 'paneDrawing',
    beforeDatasetsDraw(chart) {
      const {ctx, chartArea: area, scales: {x, y}} = chart;
      ctx.save();
      ctx.beginPath();
      ctx.rect(area.left, area.top, area.width, area.height);
      ctx.clip();
      for (const z of cfg.zones) {
        const x0 = z.from === undefined ? area.left : x.getPixelForValue(z.from);
        const x1 = z.to === undefined ? area.right : x.getPixelForValue(z.to);
        const y0 = z.top === undefined ? area.top : y.getPixelForValue(z.top);
        const y1 = z.bottom === undefined ? area.bottom : y.getPixelForValue(z.bottom);
        ctx.fillStyle = z.color;
        ctx.fillRect(x0, y0, x1 - x0, y1 - y0);
      }
      if (cfg.mark) {
        ctx.fillStyle = 'rgba(120,123,134,0.1)';
        ctx.textAlign = 'center';
        ctx.textBaseline = 'middle';
        const mx = x.getPixelForValue(cfg.mark.bar);
        ctx.font = '500 52px ' + FONT;
        ctx.fillText(cfg.mark.title, mx, 282);
        ctx.font = '24px ' + FONT;
        ctx.fillText('Euro / Dollar Américain', mx, 328);
      }
      ctx.restore();
    },
    afterDatasetsDraw(chart) {
      const {ctx, scales: {x, y}} = chart;
      ctx.save();
      ctx.textBaseline = 'middle';
      for (const t of cfg.texts) {
        ctx.font = (t.font || '') + ' 11.5px ' + FONT;
        ctx.textAlign = t.align;
        ctx.fillStyle = t.color;
        ctx.fillText(t.text, x.getPixelForValue(t.bar), y.getPixelForValue(t.price) + (t.dy || 0));
      }
      ctx.restore();
    }
  };
}

const noPadding = s => { s.paddingTop = 0; s.paddingBottom = 0; s.paddingLeft = 0; s.paddingRight = 0; };

function makeChart(id, datasets, xRange, yRange, axisWidth, opts) {
  const ticksFor = opts.yTicks;
  return new Chart(document.getElementById(id), {
    data: {datasets},
    plugins: opts.plugins,
    options: {
      responsive: false,
      layout: {padding: 0},
      plugins: {legend: {display: false}, tooltip: {enabled: false}},
      scales: {
        x: Object.assign({
          type: 'linear', min: xRange[0], max: xRange[1], offset: false,
          grid: {display: false, drawTicks: false}, border: {display: false}
        }, opts.x),
        y: {
          type: 'linear', position: 'right', min: yRange[0], max: yRange[1],
          grid: {display: false, drawTicks: false}, border: {display: false},
          afterBuildTicks: s => { s.ticks = ticksFor.map(v => ({value: v})); },
          afterFit: s => { s.width = axisWidth; noPadding(s); },
          ticks: {padding: opts.yPad, font: {size: 11.5}, color: '#131722', callback: opts.yFormat}
        }
      }
    }
  });
}

function xAxis(bars, labels, bold) {
  return {
    afterBuildTicks: s => { s.ticks = bars.map(v => ({value: v})); },
    afterFit: s => { s.height = 33; noPadding(s); },
    ticks: {
      autoSkip: false, maxRotation: 0, padding: 10, color: '#131722',
      callback: (v, i) => labels[i],
      font: ctx => ({size: 11.5, weight: bold && bold.includes(labels[ctx.index]) ? '700' : '400'})
    }
  };
}

// ---- 1h pane
const leftOrangeGap = [200.7, 235.8], leftPurpleGap = [175, 209.3];
const leftTexts = [];
const leftLevels = [];
leftOrangeLevels.forEach((p, i) => {
  leftLevels.push(level(p, -0.35, 238, ORANGE, 1, [5, 5], leftOrangeGap));
  leftTexts.push({text: `${leftOrangeNames[i]} (${comma(p, 5)})`, bar: 235.3, price: p, align: 'right', color: 'rgba(176,90,0,0.75)'});
});
leftPurpleLevels.forEach((p, i) => {
  leftLevels.push(level(p, 147, 238, PURPLE, 1, [5, 5], leftPurpleGap));
  leftTexts.push({text: `${leftPurpleNames[i]} (${comma(p, 5)})`, bar: 208.8, price: p, align: 'right', color: 'rgba(156,39,176,0.75)'});
});
leftTexts.push(
  {text: 'ext_ssb/kijun_1h', bar: 200.8, price: 1.16097, align: 'left', font: 'italic', color: '#131722'},
  {text: 'xxx', bar: 29.7, price: 1.16675, align: 'center', font: 'italic', color: '#131722'},
  {text: '8h', bar: 38.2, price: 1.16725, align: 'center', font: 'italic 700', color: '#131722'},
  {text: 'un_', bar: 3.6, price: 1.16525, align: 'center', font: 'italic', color: '#131722'}
);

makeChart('leftMain', [
  ...candles(leftOpen, leftHigh, leftLow, leftClose),
  line(pts(leftTenkanBars, leftTenkan), '#f23645', 2, 2),
  line(pts(leftKijunBars, leftKijun), BLUE, 2, 1),
  line(pts(leftChikouBars, leftChikou), 'rgba(56,142,60,0.95)', 2, 3),
  ...cloud(leftSpanABars, leftSpanA, leftSpanBBars, leftSpanB),
  ...leftLevels,
  level(1.16688, -0.35, 238, ORANGE, 1.5, [], [25.3, 34]),
  level(1.16674, -0.35, 238, '#131722', 1.2),
  level(1.16531, 8, 238, '#b06a10', 2.5),
  level(1.16562, 126.3, 238, BLUE, 1),
  level(1.1579, 110.2, 238, BLUE, 1),
  level(1.16097, 134, 238, PURPLE, 2, [], [200, 236]),
  level(1.15881, 175.8, 193.3, '#787b86', 1),
  level(1.16359, -0.35, 238, '#000', 2, [2, 4.5]),
  level(1.15681, -0.35, 238, '#000', 2, [2, 4.5]),
  level(1.1598, 82.1, 209.1, '#000', 1.2, [6, 5]),
  level(1.15856, 123.5, 203.2, '#000', 1.2, [6, 5])
], [-0.35, 238.25], [1.147042, 1.170261], 61, {
  x: {display: false},
  yPad: 8,
  yTicks: leftPriceTicks,
  yFormat: v => comma(v, 5),
  plugins: [paneDrawing({
    zones: [
      {color: '#fff9db'},
      {bottom: 1.16674, color: '#fffdec'},
      {bottom: 1.1683, color: '#f3e4cb'},
      {from: 78.6, top: 1.1605, bottom: 1.15905, color: 'rgba(100,135,250,0.17)'},
      {from: 117.2, to: 203.5, top: 1.15905, bottom: 1.15804, color: 'rgba(190,90,170,0.16)'},
      {from: 175.4, to: 197.5, top: 1.16713, bottom: 1.1592, color: 'rgba(8,153,129,0.12)'},
      {from: 175.4, to: 197.5, top: 1.1592, bottom: 1.15731, color: 'rgba(242,54,69,0.12)'}
    ],
    mark: {bar: 119, title: 'EURUSD, 1h'},
    texts: leftTexts
  })]
});

const rsiZone = {top: 70, bottom: 30, color: 'rgba(126,87,194,0.1)'};
function rsiPane(id, bars, values, xRange, yRange, axisWidth, x, lastBar) {
  makeChart(id, [
    line(pts(bars, values), '#7e57c2', 1, 1),
    level(70, xRange[0], lastBar, '#787b86', 1, [4, 3]),
    level(50, xRange[0], lastBar, 'rgba(120,123,134,0.6)', 1, [4, 3]),
    level(30, xRange[0], lastBar, '#787b86', 1, [4, 3])
  ], xRange, yRange, axisWidth, {
    x,
    yPad: id === 'leftRsi' ? 8 : 9,
    yTicks: [80, 60, 40],
    yFormat: v => comma(v, 2),
    plugins: [paneDrawing({zones: [Object.assign({to: lastBar}, rsiZone)], texts: []})]
  });
}
rsiPane('leftRsi', leftRsiBars, leftRsi, [-0.35, 238.25], [29.4, 90], 61, xAxis(leftDayBars, leftDayLabels), 237.6);

// ---- 5 min pane
const rightOrangeGap = [182, 213.8];
const rightTexts = [];
const rightLevels = [];
rightOrangeLevels.forEach((p, i) => {
  rightLevels.push(level(p, 0.6, 215.6, ORANGE, 1, [5, 5], rightOrangeGap));
  rightTexts.push({text: `${rightOrangeNames[i]} (${comma(p, 5)})`, bar: 213, price: p, align: 'right', color: 'rgba(176,90,0,0.75)'});
});
rightPurpleLevels.forEach((p, i) => {
  rightLevels.push(level(p, 31.5, 215.6, PURPLE, 1, [5, 5]));
  rightTexts.push({text: `${rightPurpleNames[i]} (${comma(p, 5)})`, bar: 0.2, price: p, align: 'left', color: 'rgba(156,39,176,0.75)'});
});
rightTexts.push({text: 'ext_ssb/kijun_1h', bar: 182.8, price: 1.16097, align: 'left', font: 'italic', color: '#131722'});

makeChart('rightMain', [
  ...candles(rightOpen, rightHigh, rightLow, rightClose),
  line(pts(rightTenkanBars, rightTenkan), '#f23645', 2, 2),
  line(pts(rightKijunBars, rightKijun), BLUE, 2, 1),
  line(pts(rightChikouBars, rightChikou), 'rgba(56,142,60,0.95)', 2, 3),
  ...cloud(rightSpanABars, rightSpanA, rightSpanBBars, rightSpanB),
  ...rightLevels,
  level(1.16097, 0, 215.6, PURPLE, 2, [], [181.9, 213.8]),
  level(1.15907, 0, 215.6, 'rgba(156,39,176,0.18)', 3),
  level(1.15881, 149.7, 215.6, '#787b86', 1),
  level(1.1598, 0, 215.6, '#000', 1.2, [6, 5]),
  level(1.15856, 0, 215.6, '#000', 1.2, [6, 5]),
  level(1.1589, 144.4, 179, '#000', 1.2, [6, 5])
], [0, 215.6], [1.157975, 1.162378], 62, {
  x: {display: false},
  yPad: 9,
  yTicks: rightPriceTicks,
  yFormat: v => comma(v, 5),
  plugins: [paneDrawing({
    zones: [
      {color: '#fffeeb'},
      {top: 1.1605, bottom: 1.15907, color: 'rgba(100,135,250,0.18)'},
      {top: 1.15907, bottom: 1.15803, color: 'rgba(190,90,170,0.16)'},
      {from: 150, top: 1.16239, bottom: 1.1592, color: 'rgba(8,140,125,0.1)'},
      {from: 150, top: 1.1592, color: 'rgba(242,54,69,0.1)'},
      {from: 145.6, to: 179, top: 1.15912, bottom: 1.15868, color: 'rgba(120,123,134,0.3)'}
    ],
    mark: {bar: 107.5, title: 'EURUSD, 5'},
    texts: rightTexts
  })]
});
rsiPane('rightRsi', rightRsiBars, rightRsi, [0, 215.6], [25.2, 88.8], 62, xAxis(rightTimeBars, rightTimeLabels, rightBoldLabels), 215.6);
</script>
</body>
</html>
